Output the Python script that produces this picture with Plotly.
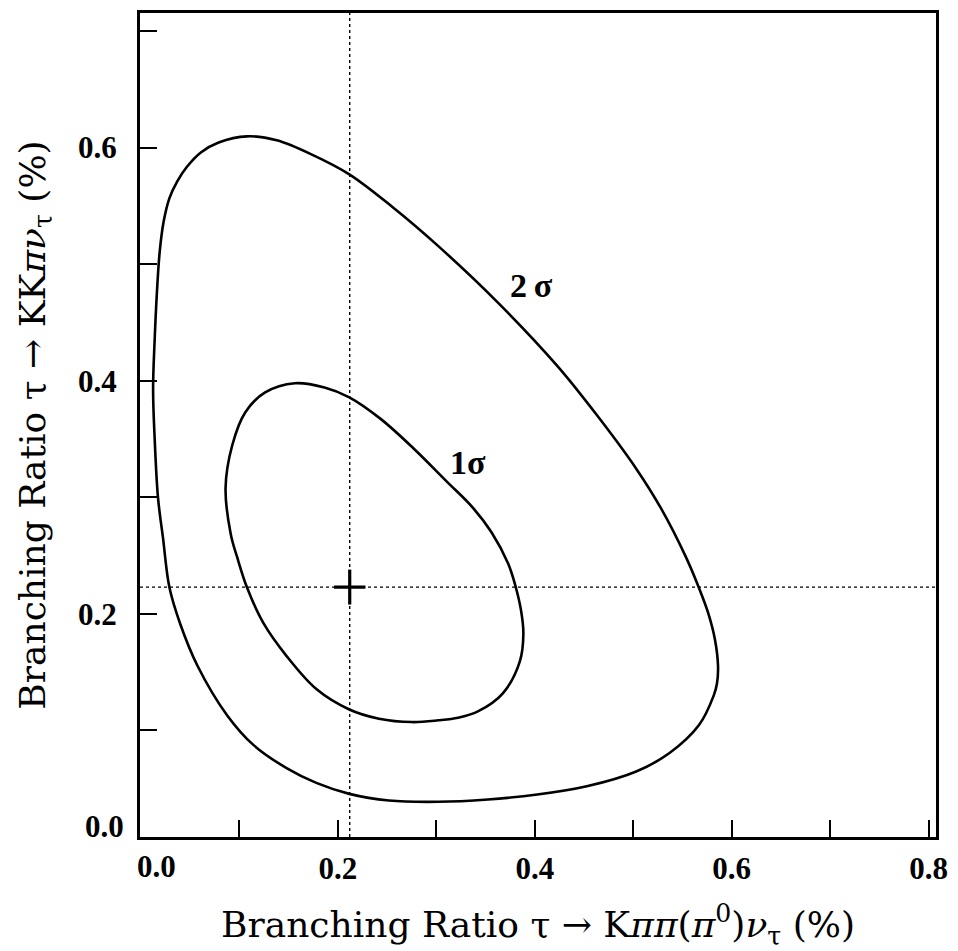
import plotly.graph_objects as go

# Central fit value and its error cross
best_x = 0.212
best_y = 0.223
err_x = 0.016
err_y = 0.015

# 2 sigma contour (clockwise from the top)
c2_x = [0.1077, 0.1379, 0.1747, 0.2116, 0.2551, 0.3020, 0.3623, 0.4226,
        0.4628, 0.5030, 0.5281, 0.5533, 0.5666, 0.5760, 0.5830, 0.5861, 0.5850, 0.5817, 0.5666,
        0.5365, 0.5030, 0.4528, 0.4025, 0.3523, 0.3020, 0.2518, 0.2116, 0.1781, 0.1479,
        0.1144, 0.0876, 0.0575, 0.0397, 0.0289, 0.0223, 0.0173, 0.0139, 0.0123, 0.0139,
        0.0163, 0.0191, 0.0231, 0.0289, 0.0367, 0.0467, 0.0608, 0.0789]
c2_y = [0.6097, 0.6063, 0.5936, 0.5771, 0.5493, 0.5155, 0.4673, 0.4130,
        0.3708, 0.3246, 0.2907, 0.2491, 0.2226, 0.2010, 0.1779, 0.1553, 0.1400, 0.1299, 0.1044,
        0.0804, 0.0648, 0.0521, 0.0450, 0.0408, 0.0388, 0.0399, 0.0456, 0.0550, 0.0677,
        0.0874, 0.1129, 0.1553, 0.1918, 0.2226, 0.2656, 0.2995, 0.3504, 0.3928, 0.4352,
        0.4776, 0.5115, 0.5370, 0.5567, 0.5709, 0.5836, 0.5959, 0.6044]

# 1 sigma contour (clockwise from the top)
c1_x = [0.1563, 0.1864, 0.2116, 0.2434, 0.2769, 0.3104, 0.3372, 0.3560, 0.3730, 0.3800,
        0.3860, 0.3884, 0.3849, 0.3673, 0.3422, 0.3221, 0.3020, 0.2752, 0.2417, 0.2116,
        0.1781, 0.1479, 0.1244, 0.1077, 0.0977, 0.0912, 0.0859, 0.0927, 0.1060, 0.1261]
c1_y = [0.3979, 0.3942, 0.3858, 0.3673, 0.3419, 0.3137, 0.2910, 0.2700, 0.2430, 0.2250,
        0.2030, 0.1833, 0.1595, 0.1316, 0.1163, 0.1109, 0.1087, 0.1072, 0.1101, 0.1180,
        0.1355, 0.1638, 0.1920, 0.2226, 0.2486, 0.2684, 0.3080, 0.3447, 0.3730, 0.3900]

# Axis ticks: labelled every 0.2, minor ticks in between
x_tickvals = [0.2, 0.4, 0.6, 0.8]
x_ticktext = ["0.2", "0.4", "0.6", "0.8"]
x_minor = [0.1, 0.3, 0.5, 0.7]
y_tickvals = [0.2, 0.4, 0.6]
y_ticktext = ["0.2", "0.4", "0.6"]
y_minor = [0.1, 0.3, 0.5, 0.7]
zero_label = "0.0"

x_title = "Branching Ratio τ → K<i>ππ</i>(<i>π</i><sup>0</sup>)<i>ν</i><sub>τ</sub> (%)"
y_title = "Branching Ratio τ → KK<i>πν</i><sub>τ</sub> (%)"

contour_labels = [("2\u2009σ", 0.3965, 0.4819), ("1σ", 0.3322, 0.3300)]

x_range = [-0.001, 0.8075]
y_range = [0.0086, 0.7155]

serif = "Liberation Serif, Times New Roman, serif"
title_font = "DejaVu Serif, serif"

fig = go.Figure()

for cx, cy in ((c2_x, c2_y), (c1_x, c1_y)):
    fig.add_trace(go.Scatter(
        x=cx + cx[:1], y=cy + cy[:1], mode="lines",
        line=dict(color="black", width=2.6, shape="spline", smoothing=1.0),
        hoverinfo="skip", showlegend=False))

# Dotted lines through the central value
fig.add_vline(x=best_x, line=dict(color="black", width=1.4, dash="dot"))
fig.add_hline(y=best_y, line=dict(color="black", width=1.4, dash="dot"))

fig.add_trace(go.Scatter(
    x=[best_x], y=[best_y], mode="markers",
    marker=dict(size=1, color="black"),
    error_x=dict(type="constant", value=err_x, color="black", thickness=3.2, width=0),
    error_y=dict(type="constant", value=err_y, color="black", thickness=3.2, width=0),
    showlegend=False, hoverinfo="skip"))

for text, lx, ly in contour_labels:
    fig.add_annotation(x=lx, y=ly, text="<b>%s</b>" % text, showarrow=False,
                       font=dict(family=serif, size=34, color="black"))

label_font = dict(family=serif, size=31, color="black", weight="bold")

# Origin labels sit inside the frame corner, shifted off the axis ends
fig.add_annotation(x=0, y=0.018, xref="paper", yref="y", text=zero_label,
                   showarrow=False, xanchor="right", xshift=-14, font=label_font)
fig.add_annotation(x=0, y=0, xref="x", yref="paper", text=zero_label,
                   showarrow=False, yanchor="top", xshift=16, yshift=-10, font=label_font)

tick_common = dict(ticks="inside", ticklen=17, tickwidth=1.6, tickcolor="black")

axis_common = dict(
    showline=True, linecolor="black", linewidth=3, mirror=True,
    showgrid=False, zeroline=False, tickfont=label_font, **tick_common,
)

fig.update_xaxes(range=x_range, tickmode="array", tickvals=x_tickvals, ticktext=x_ticktext,
                 minor=dict(tickmode="array", tickvals=x_minor, **tick_common),
                 title=dict(text=x_title, font=dict(family=title_font, size=36, color="black"),
                            standoff=30),
                 ticklabelstandoff=2, **axis_common)
fig.update_yaxes(range=y_range, tickmode="array", tickvals=y_tickvals, ticktext=y_ticktext,
                 minor=dict(tickmode="array", tickvals=y_minor, **tick_common),
                 title=dict(text=y_title, font=dict(family=title_font, size=36, color="black"),
                            standoff=22),
                 ticklabelstandoff=14, **axis_common)

fig.update_layout(
    width=958, height=951,
    margin=dict(l=140, r=15, t=10, b=108),
    paper_bgcolor="white", plot_bgcolor="white",
    showlegend=False,
)

fig.write_html("out.html")
